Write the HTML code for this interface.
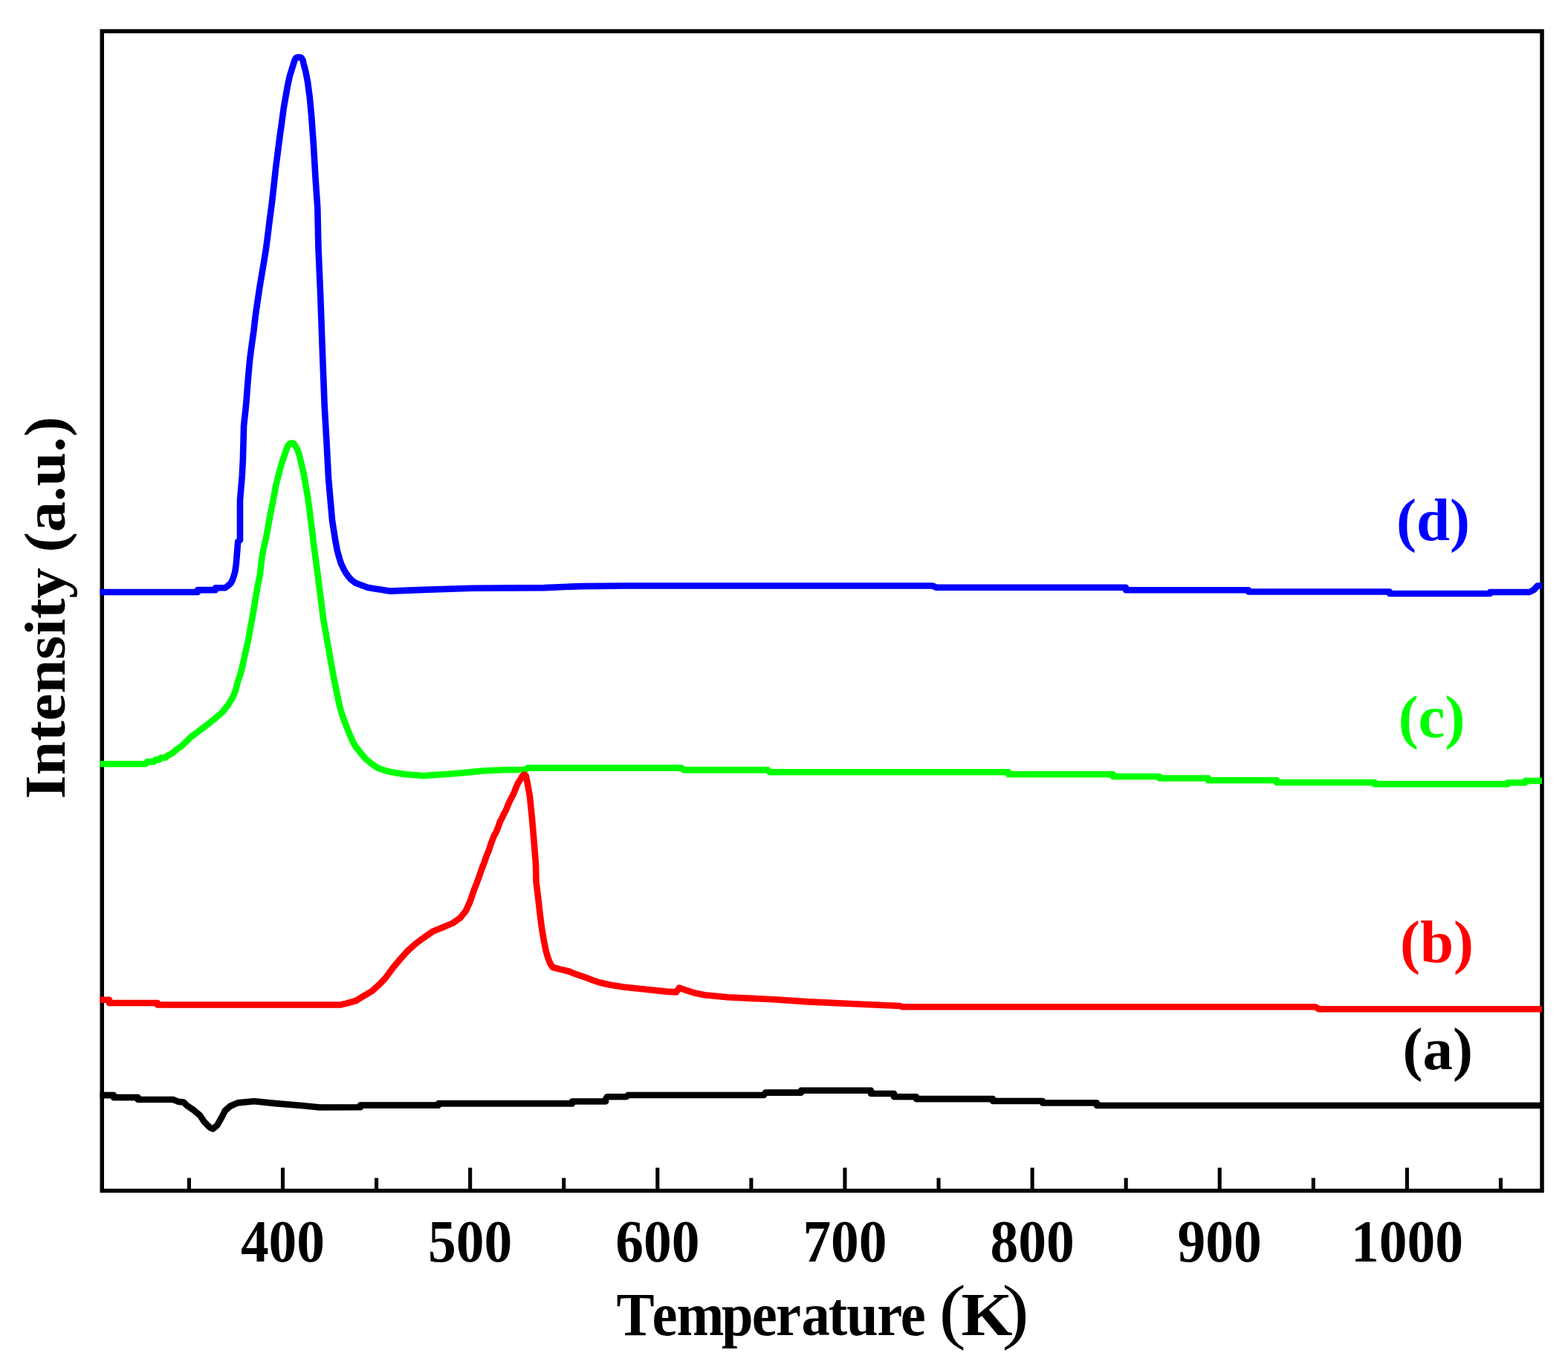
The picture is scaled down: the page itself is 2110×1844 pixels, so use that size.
<!DOCTYPE html>
<html><head><meta charset="utf-8"><title>TPD profiles</title>
<style>
html,body{margin:0;padding:0;background:#fff;}
svg{display:block;}
text{font-family:"Liberation Serif","Times New Roman",serif;font-weight:bold;}
</style></head>
<body>
<svg width="2110" height="1844" viewBox="0 0 2110 1844">
<rect width="2110" height="1844" fill="#fff"/>
<rect x="137.25" y="42" width="1937.75" height="1560.7" fill="none" stroke="#000" stroke-width="5.5"/>
<g fill="none" stroke-width="8.6" stroke-linejoin="round" stroke-linecap="butt">
<path stroke="#0000ff" d="M134.6,797 L266,797 L266,794.1 L290,794.1 L290,791.2 L303,791.2 L305.5,789.3 L310.4,785.4 L313.3,779.5 L316.3,769.8 L317.9,758.3 L320.2,729 L323,727 L323,673.5 L325.8,640 L326.9,618.6 L328.1,572.8 L331.1,545.5 L333.8,510.3 L336.2,483.75 L338.9,463.4 L341.5,445 L343.9,424.1 L346.7,404.6 L349.5,386.2 L352.3,369.4 L355.1,352.7 L357.9,335.4 L360.3,317 L362.9,295.8 L365.7,274.6 L368.3,252 L371.2,225.1 L374,203.4 L376.7,182.4 L379,166.1 L381.8,145.2 L384.6,129.3 L387,115.6 L389.8,102.5 L392.4,94.3 L395.2,85.3 L396.5,81 L398.5,77.8 L402,77 L405.5,77.8 L407.5,81 L408.8,86.8 L411.2,95.6 L414,110.1 L416.7,130.2 L419.2,157 L422,196 L424.6,240.7 L427.3,279.7 L428.4,332.5 L431.2,397.2 L434,476 L436.7,546.6 L439.5,595 L442,643.1 L444.7,674 L447,700 L448.4,709.4 L451,725.8 L453.75,740.6 L456.5,750.8 L459,758.6 L462,764.8 L464.7,770.1 L468.5,775.5 L472.5,780.2 L478,784.4 L494.6,790.7 L523.9,795.6 L576.5,793.6 L635,791.7 L732.5,791.1 L781.3,789.1 L840,788.5 L1255,788.5 L1260,790.7 L1515,790.7 L1515,794.2 L1680,794.2 L1680,796.5 L1870,796.5 L1870,799 L2005,799 L2005,797 L2058,797 L2064,794 L2069,788.5 L2075,788.5"/>
<path stroke="#00ff00" d="M134.6,1028.3 L196,1028.3 L198,1025.4 L207,1025.4 L209,1022.6 L214.8,1022.6 L216.5,1019.8 L222.8,1019.8 L225.5,1017 L229.5,1015.3 L233.5,1012.5 L238,1008.5 L243.1,1005.2 L248.3,1000.6 L256.3,992.5 L267.2,984.3 L278,976.2 L288.9,967.5 L299.8,958 L307.1,948.6 L312.9,939.2 L316.5,930.8 L320.3,916.7 L323,908.9 L325.8,898.75 L328.1,887.8 L330.9,875.3 L334,862 L336.3,848.75 L339.1,833.9 L341.8,818.3 L344.3,802.7 L346.9,787.8 L349.8,773.9 L352.3,751.6 L355,736.7 L357.7,725.8 L360.5,710.9 L363.2,695.3 L365.9,682 L368.4,668.75 L371,654.7 L373.75,643.75 L376.5,632.8 L379.2,623.4 L382,614.8 L384.5,607.8 L387.1,600.5 L390,597.2 L392.7,596.3 L395.5,597.2 L398.3,601.8 L400.5,605.6 L403,613.4 L405.8,625.2 L408.5,636.9 L411.25,652.5 L414,668.1 L416.7,687.7 L419.1,707.2 L421.7,728.9 L424.5,750.8 L427.2,770.3 L429.9,792.2 L432.7,813.3 L435,832.8 L438,849.3 L443.1,878.5 L448.3,907.8 L454.1,937 L457,950 L459.3,958.4 L462,966.7 L464.6,973.4 L467.4,980.7 L470.1,987.4 L472.7,993.5 L475.2,999.1 L479,1005.5 L483.5,1011.2 L491.9,1021.3 L500.2,1028.2 L508.6,1033.8 L517,1036.8 L528.1,1039.6 L544.9,1042.2 L562.4,1043.5 L570,1044.3 L578.4,1043.5 L597,1042.3 L615,1041 L632,1039.4 L650,1037.5 L680,1036.3 L707,1036 L710,1033.6 L917,1033.6 L920,1036.4 L1033,1036.4 L1036,1039.3 L1357,1039.3 L1357,1042.2 L1498,1042.2 L1498,1045.2 L1560,1045.2 L1560,1047.5 L1626,1047.5 L1626,1050.3 L1718,1050.3 L1718,1053.3 L1850,1053.3 L1850,1055.4 L2029,1055.4 L2029,1053.5 L2052.5,1053.5 L2052.5,1051 L2075,1051"/>
<path stroke="#ff0000" d="M134.6,1345.7 L147,1345.7 L147,1350 L212,1350 L212,1352.5 L458,1352.5 L466,1350.6 L479,1347 L490,1340.2 L500,1334.4 L510,1325.6 L518,1317.3 L529.3,1302.1 L539,1290.4 L548.8,1279.7 L558.5,1270.9 L570.2,1262.1 L582.9,1253.4 L597.5,1247.5 L609.2,1242.6 L619,1235.8 L626.8,1226.1 L632.6,1213.4 L637.5,1198.8 L641.4,1189 L645.3,1178.3 L649,1167.5 L651.7,1160.9 L654.5,1152.3 L657.2,1146.4 L659.7,1138.6 L662.3,1131.6 L665,1124.5 L667.7,1119.8 L670.5,1112.8 L673,1105.8 L675.9,1100.3 L678.4,1094.8 L681,1090.2 L683.75,1083.1 L686.25,1077.7 L689.2,1072.2 L692,1066.3 L694.5,1059.7 L697.2,1053.8 L700,1049.5 L702.7,1044.8 L705.5,1042.5 L707.5,1043.5 L709.1,1050.5 L713,1072.2 L715.8,1100.3 L718.5,1131.6 L721,1162.8 L721.5,1186.8 L723.7,1204.6 L726.8,1231.4 L729,1249.3 L732.1,1267.1 L734.8,1280.5 L737.5,1289.5 L740.2,1296.6 L743.75,1302 L753.6,1304.6 L765.2,1307.3 L772.3,1310.2 L780.4,1313.1 L788.4,1315.8 L797.9,1319.5 L808.2,1322.8 L821.8,1325.8 L838.9,1328.5 L869.6,1331.7 L896.9,1334.6 L910,1335.4 L914,1329.6 L924.2,1333.2 L934.5,1336.5 L948.1,1339.3 L978.8,1342.2 L1045.4,1345.5 L1088,1348.4 L1149.5,1351.2 L1210.9,1354 L1215,1355.3 L1770,1355.3 L1775,1358.3 L2075,1358.3"/>
<path stroke="#000000" d="M134.6,1474.1 L153,1474.1 L153,1477.1 L185.6,1477.1 L185.6,1480 L233,1480 L240,1482.9 L247,1483.5 L251.4,1488 L260.2,1493.9 L269,1501.2 L274.8,1510 L282.1,1517.3 L286.5,1519.5 L292.4,1514.4 L298.2,1504.1 L302.6,1495.3 L309.9,1488.8 L320.1,1484.4 L342.1,1482.2 L369.9,1485.1 L405,1488 L430,1490.5 L485,1490.2 L485,1487.6 L590,1487.6 L590,1485.4 L770,1485.4 L770,1482.5 L815,1482.5 L815,1479.5 L817,1476.3 L843,1476.3 L845,1474 L1028,1474 L1030,1470.6 L1078,1470.6 L1078,1467.7 L1172,1467.7 L1172,1472 L1203,1472 L1203,1476.3 L1233,1476.3 L1233,1479.1 L1336,1479.1 L1336,1482 L1403,1482 L1403,1484.5 L1476,1484.5 L1476,1488 L2075,1488"/>
</g>
<g fill="#000">
<rect x="251.88" y="1585.5" width="5.1" height="15.5"/>
<rect x="377.95" y="1571.7" width="5.1" height="29.3"/>
<rect x="504.02" y="1585.5" width="5.1" height="15.5"/>
<rect x="630.10" y="1571.7" width="5.1" height="29.3"/>
<rect x="756.18" y="1585.5" width="5.1" height="15.5"/>
<rect x="882.25" y="1571.7" width="5.1" height="29.3"/>
<rect x="1008.33" y="1585.5" width="5.1" height="15.5"/>
<rect x="1134.40" y="1571.7" width="5.1" height="29.3"/>
<rect x="1260.48" y="1585.5" width="5.1" height="15.5"/>
<rect x="1386.55" y="1571.7" width="5.1" height="29.3"/>
<rect x="1512.62" y="1585.5" width="5.1" height="15.5"/>
<rect x="1638.70" y="1571.7" width="5.1" height="29.3"/>
<rect x="1764.78" y="1585.5" width="5.1" height="15.5"/>
<rect x="1890.85" y="1571.7" width="5.1" height="29.3"/>
<rect x="2016.93" y="1585.5" width="5.1" height="15.5"/>
</g>
<g font-size="75.5" fill="#000">
<text x="380.5" y="0" text-anchor="middle" transform="translate(0,1697.6) scale(1,1.06)">400</text>
<text x="632.6" y="0" text-anchor="middle" transform="translate(0,1697.6) scale(1,1.06)">500</text>
<text x="884.8" y="0" text-anchor="middle" transform="translate(0,1697.6) scale(1,1.06)">600</text>
<text x="1137.0" y="0" text-anchor="middle" transform="translate(0,1697.6) scale(1,1.06)">700</text>
<text x="1389.1" y="0" text-anchor="middle" transform="translate(0,1697.6) scale(1,1.06)">800</text>
<text x="1641.2" y="0" text-anchor="middle" transform="translate(0,1697.6) scale(1,1.06)">900</text>
<text x="1893.4" y="0" text-anchor="middle" transform="translate(0,1697.6) scale(1,1.06)">1000</text>
</g>
<text font-size="76.6" x="829.4 877.5 910.5 971 1011.8 1044.1 1078.4 1114.8 1139 1180.2 1211.7 1245.7" y="0" transform="translate(0,1797.2) scale(1,1.066)" fill="#000">Temperature <tspan x="1263.5" font-size="91" textLength="36.3" lengthAdjust="spacingAndGlyphs" style="font-weight:normal">(</tspan><tspan x="1293.5" textLength="69" lengthAdjust="spacingAndGlyphs">K</tspan><tspan x="1348.4" font-size="91" textLength="36.3" lengthAdjust="spacingAndGlyphs" style="font-weight:normal">)</tspan></text>
<text font-size="80" x="0" y="0" transform="translate(86.5,818) rotate(-90) scale(1.03,0.97)" text-anchor="middle" fill="#000">Intensity (a.u.)</text>
<text font-size="81" x="1928.5" y="727" text-anchor="middle" fill="#0000ff">(d)</text>
<text font-size="81" x="1926.6" y="992" text-anchor="middle" fill="#00ff00">(c)</text>
<text font-size="81" x="1933.6" y="1294.5" text-anchor="middle" fill="#ff0000">(b)</text>
<text font-size="81" x="1934.7" y="1438.6" text-anchor="middle" fill="#000">(a)</text>
</svg>
</body></html>
